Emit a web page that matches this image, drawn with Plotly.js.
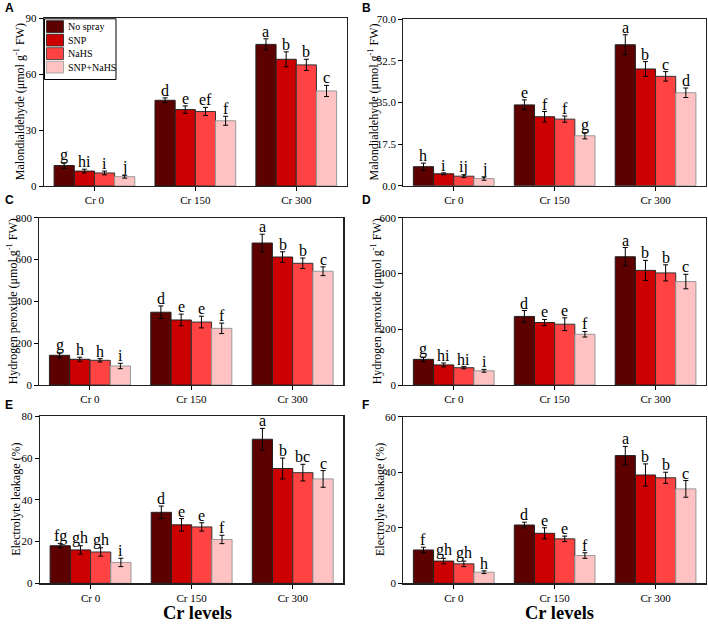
<!DOCTYPE html>
<html>
<head>
<meta charset="utf-8">
<script src="https://cdn.plot.ly/plotly-3.0.1.min.js"></script>
<style>html,body{margin:0;padding:0;background:#fff}#chart{width:708px;height:625px}</style>
</head>
<body>
<div id="chart"></div>
<script>
// ---- data ----
const categories = ['Cr 0', 'Cr 150', 'Cr 300'];
const treatments = ['No spray', 'SNP', 'NaHS', 'SNP+NaHS'];

// Panel A: Malondialdehyde
const mdaA = [[11, 46, 76], [8, 41, 68], [7, 40, 65], [5, 35, 51]];
const mdaAErr = [[1.5, 1.3, 3], [1, 2, 4], [1, 2.2, 3], [0.8, 2.4, 3]];
const mdaALetters = [['g', 'd', 'a'], ['hi', 'e', 'b'], ['i', 'ef', 'b'], ['j', 'f', 'c']];

// Panel B: Malondialdehyde
const mdaB = [[8, 34, 59.3], [5, 29, 49.1], [4, 28, 46], [3, 21, 39.1]];
const mdaBErr = [[1.5, 2.1, 4.2], [0.4, 2.2, 3.1], [0.6, 1.3, 2], [0.7, 1.3, 2]];
const mdaBLetters = [['h', 'e', 'a'], ['i', 'f', 'b'], ['ij', 'f', 'c'], ['j', 'g', 'd']];

// Panel C: Hydrogen peroxide
const h2o2C = [[142, 348, 679], [123, 311, 612], [118, 301, 582], [91, 271, 544]];
const h2o2CErr = [[12, 30, 42], [10, 28, 25], [8, 28, 25], [13, 25, 21]];
const h2o2CLetters = [['g', 'd', 'a'], ['h', 'e', 'b'], ['h', 'e', 'b'], ['i', 'f', 'c']];

// Panel D: Hydrogen peroxide
const h2o2D = [[92, 246, 460], [72, 224, 411], [62, 218, 402], [51, 182, 371]];
const h2o2DErr = [[8, 21, 33], [7, 11, 36], [4, 23, 29], [5, 10, 26]];
const h2o2DLetters = [['g', 'd', 'a'], ['hi', 'e', 'b'], ['hi', 'e', 'b'], ['i', 'f', 'c']];

// Panel E: Electrolyte leakage
const elE = [[18, 34, 69], [16, 28, 55], [15, 27, 53], [10, 21, 50]];
const elEErr = [[1, 3, 5.2], [2, 3, 5], [2, 2, 4], [2, 2, 4]];
const elELetters = [['fg', 'd', 'a'], ['gh', 'e', 'b'], ['gh', 'e', 'bc'], ['i', 'f', 'c']];

// Panel F: Electrolyte leakage
const elF = [[12, 21, 46], [8, 18, 39], [7, 16, 38], [4, 10, 34]];
const elFErr = [[1, 1, 3.3], [1, 2, 4], [1, 1, 2], [0.5, 1, 3]];
const elFLetters = [['f', 'd', 'a'], ['gh', 'e', 'b'], ['gh', 'e', 'b'], ['h', 'f', 'c']];

const yTitles = {
  mda: 'Malondialdehyde (μmol g<sup>-1</sup> FW)',
  h2o2: 'Hydrogen peroxide (μmol g<sup>-1</sup> FW)',
  el: 'Electrolyte leakage (%)'
};
const xTitle = 'Cr levels';
const panelLabels = ['A', 'B', 'C', 'D', 'E', 'F'];

// ---- styling ----
const colors = ['#5c0000', '#cc0000', '#ff4343', '#ffc2c2'];
const lineColors = ['#222', '#222', '#333', '#999'];
const W = 708, H = 625;
const serif = '"Liberation Serif", "Times New Roman", serif';
const fx = px => px / W;
const fy = py => 1 - py / H;

const panels = [
  {vals: mdaA, err: mdaAErr, let: mdaALetters, x: [44, 346.7], y: [18.3, 186], range: [0, 90], dtick: 30, fmt: '', title: yTitles.mda, tx: 19, lab: [3, 8]},
  {vals: mdaB, err: mdaBErr, let: mdaBLetters, x: [403.3, 706], y: [19.3, 185.7], range: [0, 70], dtick: 17.5, fmt: '.1f', title: yTitles.mda, tx: 373, lab: [360, 8]},
  {vals: h2o2C, err: h2o2CErr, let: h2o2CLetters, x: [39.3, 343.3], y: [217.7, 385], range: [0, 800], dtick: 200, fmt: '', title: yTitles.h2o2, tx: 12, lab: [3, 200]},
  {vals: h2o2D, err: h2o2DErr, let: h2o2DLetters, x: [403.3, 706], y: [217.7, 385], range: [0, 600], dtick: 200, fmt: '', title: yTitles.h2o2, tx: 376, lab: [360, 200]},
  {vals: elE, err: elEErr, let: elELetters, x: [40, 343.3], y: [416.3, 583.3], range: [0, 80], dtick: 20, fmt: '', title: yTitles.el, tx: 16, lab: [3, 405]},
  {vals: elF, err: elFErr, let: elFLetters, x: [403.3, 706], y: [416.7, 583.3], range: [0, 60], dtick: 20, fmt: '', title: yTitles.el, tx: 380, lab: [360, 405]}
];

const data = [];
const layout = {
  width: W, height: H,
  margin: {l: 0, r: 0, t: 0, b: 0},
  paper_bgcolor: '#fff', plot_bgcolor: '#fff',
  barmode: 'group', bargap: 0.2, bargroupgap: 0,
  showlegend: false,
  annotations: [],
  shapes: [],
  font: {family: serif, color: '#000'}
};

const offsets = [-0.3, -0.1, 0.1, 0.3];

panels.forEach((p, i) => {
  const n = i + 1;
  const xa = n === 1 ? 'x' : 'x' + n;
  const ya = n === 1 ? 'y' : 'y' + n;
  const xk = n === 1 ? 'xaxis' : 'xaxis' + n;
  const yk = n === 1 ? 'yaxis' : 'yaxis' + n;
  treatments.forEach((t, j) => {
    data.push({
      type: 'bar', name: t, x: categories, y: p.vals[j],
      xaxis: xa, yaxis: ya,
      marker: {color: colors[j], line: {color: lineColors[j], width: 1}},
      error_y: {type: 'data', array: p.err[j], visible: true, color: '#000', thickness: 1, width: 2.5},
      hoverinfo: 'skip'
    });
    categories.forEach((c, k) => {
      layout.annotations.push({
        xref: xa, yref: ya, x: k + offsets[j], y: p.vals[j][k] + p.err[j][k],
        text: p.let[j][k], showarrow: false, yanchor: 'bottom', xanchor: 'center', yshift: -3,
        font: {family: serif, size: 16, color: '#000'}
      });
    });
  });
  layout[xk] = {
    domain: [fx(p.x[0]), fx(p.x[1])], anchor: ya,
    type: 'category', range: [-0.5, 2.5],
    showline: true, linecolor: '#222', linewidth: 1.2, mirror: true,
    ticks: 'outside', ticklen: 4, tickcolor: '#000', tickwidth: 1,
    tickfont: {family: serif, size: 11, color: '#000'},
    showgrid: false, zeroline: false, fixedrange: true
  };
  layout[yk] = {
    domain: [fy(p.y[1]), fy(p.y[0])], anchor: xa,
    range: p.range, dtick: p.dtick, tick0: 0, tickformat: p.fmt,
    showline: true, linecolor: '#222', linewidth: 1.2, mirror: true,
    ticks: 'outside', ticklen: 4, tickcolor: '#000', tickwidth: 1,
    tickfont: {family: serif, size: 11, color: '#000'},
    showgrid: false, zeroline: false, fixedrange: true
  };
  // y-axis title
  layout.annotations.push({
    xref: 'paper', yref: 'paper', x: fx(p.tx), y: fy((p.y[0] + p.y[1]) / 2),
    text: p.title, textangle: -90, showarrow: false, xanchor: 'center', yanchor: 'middle',
    font: {family: serif, size: 12, color: '#000'}
  });
  // panel label
  layout.annotations.push({
    xref: 'paper', yref: 'paper', x: fx(p.lab[0]), y: fy(p.lab[1]),
    text: '<b>' + panelLabels[i] + '</b>', showarrow: false, xanchor: 'left', yanchor: 'middle',
    font: {family: '"Liberation Sans", Arial, sans-serif', size: 12, color: '#000'}
  });
});

// legend box inside panel A (drawn as paper shapes + texts)
const lg = {x0: 44.5, x1: 116, y0: 18.8, y1: 79.5, sx0: 46.5, sx1: 63.5, rows: [20.7, 34.2, 47.7, 61.2], sh: 11.8};
layout.shapes.push({type: 'rect', xref: 'paper', yref: 'paper', x0: fx(lg.x0), x1: fx(lg.x1), y0: fy(lg.y1), y1: fy(lg.y0),
  line: {color: '#000', width: 1}, fillcolor: '#fff', layer: 'above'});
treatments.forEach((t, j) => {
  const top = lg.rows[j];
  layout.shapes.push({type: 'rect', xref: 'paper', yref: 'paper', x0: fx(lg.sx0), x1: fx(lg.sx1), y0: fy(top + lg.sh), y1: fy(top),
    line: {color: lineColors[j], width: 0.8}, fillcolor: colors[j], layer: 'above'});
  layout.annotations.push({xref: 'paper', yref: 'paper', x: fx(65.5), y: fy(top + lg.sh / 2),
    text: t, showarrow: false, xanchor: 'left', yanchor: 'middle',
    font: {family: serif, size: 10, color: '#000'}});
});

// x-axis titles under bottom panels
[[197.5, 625], [559, 625]].forEach(([px, py]) => {
  layout.annotations.push({
    xref: 'paper', yref: 'paper', x: fx(px), y: fy(py),
    text: '<b>' + xTitle + '</b>', showarrow: false, xanchor: 'center', yanchor: 'bottom',
    font: {family: serif, size: 18.5, color: '#000'}
  });
});

Plotly.newPlot('chart', data, layout, {displayModeBar: false, staticPlot: true});
</script>
</body>
</html>
